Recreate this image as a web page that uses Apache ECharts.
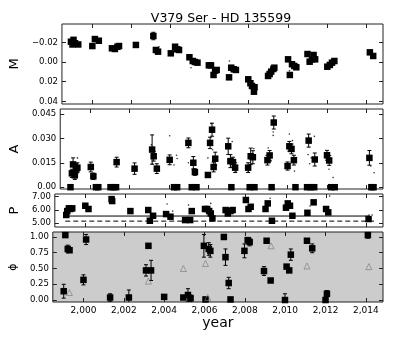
<!DOCTYPE html>
<html>
<head>
<meta charset="utf-8">
<title>V379 Ser - HD 135599</title>
<script src="https://cdn.jsdelivr.net/npm/echarts@6/dist/echarts.min.js"></script>
<style>html,body{margin:0;padding:0;background:#fff}#main{width:403px;height:337px}</style>
</head>
<body>
<div id="main"></div>
<script type="text/javascript">
// ---- data ----
var yearTicks = [2000, 2002, 2004, 2006, 2008, 2010, 2012, 2014];

// M panel
var mYear = [1998.94,1999.07,1999.15,1999.02,1999.31,2000.03,2000.16,2000.36,2001.03,2001.18,2001.31,2001.39,2002.25,
  2003.14,2003.27,2003.38,2004.03,2004.25,2004.36,2004.45,2004.98,2005.15,2005.26,2005.39,2005.97,2006.08,2006.21,2006.29,2006.37,
  2007.00,2007.11,2007.24,2007.35,2007.98,2008.09,2008.17,2008.27,2008.30,2008.99,2009.07,2009.15,2009.26,2009.31,
  2010.01,2010.10,2010.21,2010.33,2010.43,2011.00,2011.11,2011.23,2011.31,2011.39,2012.01,2012.14,2012.25,2012.37,2014.18,2014.35];
var mVal = [-0.0206,-0.0225,-0.0190,-0.0178,-0.0178,-0.0162,-0.0233,-0.0216,-0.0139,-0.0132,-0.0155,-0.0162,-0.0173,
  -0.0264,-0.0122,-0.0105,-0.0088,-0.0155,-0.0129,-0.0122,-0.0048,-0.0010,0.0000,0.0007,0.0034,0.0034,0.0132,0.0088,0.0081,
  0.0156,0.0058,0.0074,0.0081,0.0176,0.0216,0.0244,0.0302,0.0257,0.0142,0.0122,0.0098,0.0071,0.0058,
  -0.0027,0.0132,0.0023,0.0041,0.0054,-0.0081,-0.0003,-0.0027,-0.0071,-0.0027,0.0048,0.0030,0.0007,-0.0010,-0.0098,-0.0061];
var mErrYear = [2003.14];
var mErrVal = [-0.0264];
var mErr = [0.0038];
var mDotYear = [2003.43, 2005.06, 2007.02, 2010.08];
var mDotVal = [-0.0155, 0.0058, -0.0010, 0.0090];

// A panel
var aYear = [1999.07,1999.13,1999.22,1999.30,1999.35,2000.03,2000.16,2001.34,2002.25,2003.14,2003.22,2003.38,2004.03,
  2004.98,2005.23,2005.31,2005.97,2006.08,2006.18,2006.26,2006.34,2007.00,2007.11,2007.24,2007.35,2008.01,2008.14,2008.25,
  2008.99,2009.10,2009.31,2010.01,2010.10,2010.21,2010.33,2011.08,2011.39,2012.01,2012.12,2014.16];
var aVal = [0.0085,0.0140,0.0073,0.0114,0.0120,0.0124,0.0067,0.0154,0.0114,0.0231,0.0190,0.0114,0.0168,
  0.0272,0.0150,0.0093,0.0075,0.0272,0.0353,0.0124,0.0175,0.0251,0.0160,0.0154,0.0120,0.0120,0.0190,0.0184,
  0.0166,0.0195,0.0397,0.0130,0.0251,0.0235,0.0166,0.0286,0.0170,0.0196,0.0164,0.0180];
var aErr = [0.0025,0.0040,0.0025,0.0030,0.0030,0.0030,0.0020,0.0030,0.0035,0.0090,0.0030,0.0030,0.0030,
  0.0030,0.0038,0.0020,0.0015,0.0035,0.0040,0.0030,0.0040,0.0050,0.0040,0.0030,0.0030,0.0030,0.0050,0.0040,
  0.0030,0.0030,0.0040,0.0025,0.0030,0.0030,0.0030,0.0040,0.0040,0.0030,0.0030,0.0045];
var aZeroYear = [1999.00,2000.29,2000.41,2001.03,2001.18,2001.31,2004.25,2004.41,2005.15,2005.39,2007.16,2008.09,2008.33,
  2009.20,2010.41,2011.00,2011.18,2011.36,2012.22,2012.40,2014.26,2014.37];
var aDotYear = [1999.35,1999.27,2003.10,2003.15,2004.03,2004.38,2004.41,2004.25,2004.98,2005.97,2006.13,2006.21,2006.29,
  2007.20,2007.40,2008.02,2008.30,2009.28,2009.28,2009.03,2009.16,2010.10,2010.26,2010.36,2011.05,2011.21,2011.37,2011.13,
  2012.32,2012.11,2014.40,2014.23];
var aDotVal = [0.0180,0.0049,0.0260,0.0144,0.0316,0.0196,0.0176,0.0136,0.0150,0.0180,0.0390,0.0230,0.0120,
  0.0280,0.0099,0.0099,0.0237,0.0318,0.0339,0.0241,0.0160,0.0327,0.0286,0.0099,0.0200,0.0180,0.0312,0.0144,
  0.0059,0.0110,0.0089,0.0130];

// P panel
var pYear = [1999.05,1999.10,1999.18,1999.26,1999.35,2000.00,2000.16,2001.31,2001.34,2002.25,2003.14,2003.22,2003.38,
  2004.03,2004.25,2004.98,2005.23,2005.31,2005.97,2006.08,2006.18,2006.26,2006.34,2007.00,2007.11,2007.24,2007.35,
  2008.01,2008.14,2008.25,2008.99,2009.10,2009.31,2010.01,2010.10,2010.21,2010.33,2011.08,2011.39,2012.01,2012.12,2014.13];
var pVal = [5.60,5.90,6.11,6.06,6.11,6.31,6.06,6.82,6.67,5.90,5.98,5.16,5.54,
  5.67,5.47,5.21,5.21,5.90,6.06,6.06,5.90,5.72,5.34,5.98,5.72,5.90,5.98,
  6.75,6.06,6.23,6.06,6.49,5.16,6.16,6.49,6.31,5.54,5.77,6.57,6.06,5.80,5.29];
var pDotYear = [2004.08,2004.36,2005.15,2005.28,2006.26,2009.22,2010.15,2011.21,2012.19,2014.15,2014.31];
var pDotVal = [6.44,5.90,6.36,6.03,6.49,6.88,6.11,6.29,7.05,5.60,5.60];
var pMeanYear = [1999.0, 2014.2];
var pMean = [5.52, 5.52];
var pLimitYear = [1999.0, 2014.4];
var pLimit = [5.13, 5.13];

// phase panel
var fYear = [1999.02,1999.10,1999.22,1999.31,2000.00,2000.13,2001.32,2002.25,2003.10,2003.22,2003.35,2004.00,
  2004.95,2005.18,2005.31,2005.97,2006.05,2006.21,2006.29,2006.96,2007.04,2007.20,2007.29,2007.98,2008.14,2008.24,
  2008.95,2009.08,2009.28,2009.99,2010.07,2010.20,2010.28,2011.08,2011.34,2012.00,2012.07,2014.10];
var fVal = [0.14,1.03,0.81,0.79,0.32,0.96,0.04,0.04,0.47,0.86,0.47,0.05,
  0.04,0.08,0.03,0.86,0.01,0.81,0.78,1.00,0.68,0.27,0.01,0.78,0.95,0.92,
  0.46,0.94,0.31,0.00,0.53,0.47,0.72,0.94,0.82,0.00,0.10,1.03];
var fErr = [0.11,0,0.06,0,0.08,0.08,0.06,0.12,0.09,0,0.16,0.02,
  0,0.10,0.05,0.18,0,0.10,0.10,0,0.13,0.09,0.03,0.11,0.04,0.06,
  0.07,0.02,0,0.10,0,0,0.09,0,0.07,0,0.05,0.05];
var tYear = [1999.30,2003.22,2004.95,2006.05,2006.16,2009.30,2011.08,2014.15];
var tVal = [0.12,0.30,0.50,0.58,0.04,0.86,0.54,0.53];

// ---- chart ----
var FONT = 'DejaVu Sans';
var XMIN = 1998.48, XMAX = 2014.85;
var panels = [
  {top: 24, height: 80, min: -0.0386, max: 0.0427, inverse: true, ticks: [-0.02, 0, 0.02, 0.04], dec: 2, name: 'M', bg: '#fff'},
  {top: 109, height: 80, min: -0.0011, max: 0.048, inverse: false, ticks: [0, 0.015, 0.03, 0.045], dec: 3, name: 'A', bg: '#fff'},
  {top: 194, height: 33, min: 4.68, max: 7.21, inverse: false, ticks: [5, 6, 7], dec: 2, name: 'P', bg: '#fff'},
  {top: 232, height: 70, min: -0.031, max: 1.079, inverse: false, ticks: [0, 0.25, 0.5, 0.75, 1], dec: 2, name: 'ϕ', bg: '#cccccc'}
];

function pairs(xs, ys) {
  var out = [];
  for (var i = 0; i < xs.length; i++) out.push([xs[i], ys[i]]);
  return out;
}
function fmt(v, dec) {
  if (v === 0) return '0.00';
  var s = v.toFixed(dec);
  return s.replace('-', '\u2212');
}

var grids = [], xAxes = [], yAxes = [];
panels.forEach(function (p, i) {
  grids.push({left: 49, right: 20, top: p.top, height: p.height, show: true,
    backgroundColor: p.bg, borderColor: '#222', borderWidth: 1});
});
// bottom x axes 0..3, top x axes 4..7
[0, 1].forEach(function (side) {
  panels.forEach(function (p, i) {
    xAxes.push({
      gridIndex: i, type: 'value', min: XMIN, max: XMAX, position: side ? 'top' : 'bottom',
      axisLine: {show: false, onZero: false},
      splitLine: {show: false},
      axisTick: {show: true, inside: true, length: 4, customValues: yearTicks, lineStyle: {color: '#222'}},
      axisLabel: {show: side === 0 && i === 3, customValues: yearTicks, margin: 4,
        fontFamily: FONT, fontSize: 9, color: '#000'},
      name: (side === 0 && i === 3) ? 'year' : '',
      nameLocation: 'middle', nameGap: 14,
      nameTextStyle: {fontFamily: FONT, fontSize: 14, color: '#000'}
    });
  });
});
// left y axes 0..3, right y axes 4..7
[0, 1].forEach(function (side) {
  panels.forEach(function (p, i) {
    yAxes.push({
      gridIndex: i, type: 'value', min: p.min, max: p.max, inverse: p.inverse, position: side ? 'right' : 'left',
      axisLine: {show: false, onZero: false},
      splitLine: {show: false},
      axisTick: {show: true, inside: true, length: 4, customValues: p.ticks, lineStyle: {color: '#222'}},
      axisLabel: {show: side === 0, customValues: p.ticks, margin: 4, fontFamily: FONT, fontSize: 8.5, color: '#000',
        formatter: function (v) { return fmt(v, p.dec); }},
      name: side === 0 ? p.name : '',
      nameLocation: 'middle', nameGap: i === 3 ? 27 : 31, nameRotate: 90,
      nameTextStyle: {fontFamily: FONT, fontSize: i === 3 ? 11 : 13, color: '#000'}
    });
  });
});

function errSeries(gi, xs, ys, es, color) {
  var d = [];
  for (var i = 0; i < xs.length; i++) {
    if (es[i] > 0) d.push([xs[i], ys[i] - es[i], ys[i] + es[i]]);
  }
  return {
    type: 'custom', xAxisIndex: gi, yAxisIndex: gi, data: d, silent: true, clip: true, z: 1,
    encode: {x: 0, y: [1, 2]},
    renderItem: function (params, api) {
      var lo = api.coord([api.value(0), api.value(1)]);
      var hi = api.coord([api.value(0), api.value(2)]);
      var w = 2;
      var st = {stroke: color, lineWidth: 1};
      return {type: 'group', children: [
        {type: 'line', shape: {x1: lo[0], y1: lo[1], x2: hi[0], y2: hi[1]}, style: st},
        {type: 'line', shape: {x1: lo[0] - w, y1: lo[1], x2: lo[0] + w, y2: lo[1]}, style: st},
        {type: 'line', shape: {x1: hi[0] - w, y1: hi[1], x2: hi[0] + w, y2: hi[1]}, style: st}
      ]};
    }
  };
}
function squares(gi, xs, ys) {
  return {type: 'scatter', xAxisIndex: gi, yAxisIndex: gi, data: pairs(xs, ys), symbol: 'rect', symbolSize: 6.5,
    itemStyle: {color: '#000', opacity: 1}, silent: true, z: 3};
}
function dots(gi, xs, ys) {
  return {type: 'scatter', xAxisIndex: gi, yAxisIndex: gi, data: pairs(xs, ys), symbol: 'circle', symbolSize: 1.6,
    itemStyle: {color: '#000'}, silent: true, z: 2};
}
function hline(gi, xs, ys, type) {
  return {type: 'line', xAxisIndex: gi, yAxisIndex: gi, data: pairs(xs, ys), symbol: 'none', silent: true, z: 2,
    lineStyle: {color: '#000', width: 1, type: type}};
}

var aZeroVal = aZeroYear.map(function () { return 0; });

var series = [
  dots(0, mDotYear, mDotVal),
  errSeries(0, mErrYear, mErrVal, mErr, '#000'),
  squares(0, mYear, mVal),
  dots(1, aDotYear, aDotVal),
  errSeries(1, aYear, aVal, aErr, '#000'),
  squares(1, aYear, aVal),
  squares(1, aZeroYear, aZeroVal),
  hline(2, pMeanYear, pMean, 'solid'),
  hline(2, pLimitYear, pLimit, [5, 3]),
  dots(2, pDotYear, pDotVal),
  squares(2, pYear, pVal),
  errSeries(3, fYear, fVal, fErr, '#000'),
  squares(3, fYear, fVal),
  {type: 'scatter', xAxisIndex: 3, yAxisIndex: 3, data: pairs(tYear, tVal), symbol: 'triangle', symbolSize: 6,
    itemStyle: {color: 'rgba(0,0,0,0)', borderColor: '#777', borderWidth: 0.8}, silent: true, z: 3}
];

var myChart = echarts.init(document.getElementById('main'), null, {renderer: 'canvas'});
myChart.setOption({
  animation: false,
  backgroundColor: '#fff',
  title: {text: 'V379 Ser - HD 135599', left: 216, top: 7, textAlign: 'center',
    textStyle: {fontFamily: FONT, fontSize: 12.5, fontWeight: 'normal', color: '#000'}},
  grid: grids,
  xAxis: xAxes,
  yAxis: yAxes,
  series: series
});
</script>
</body>
</html>
